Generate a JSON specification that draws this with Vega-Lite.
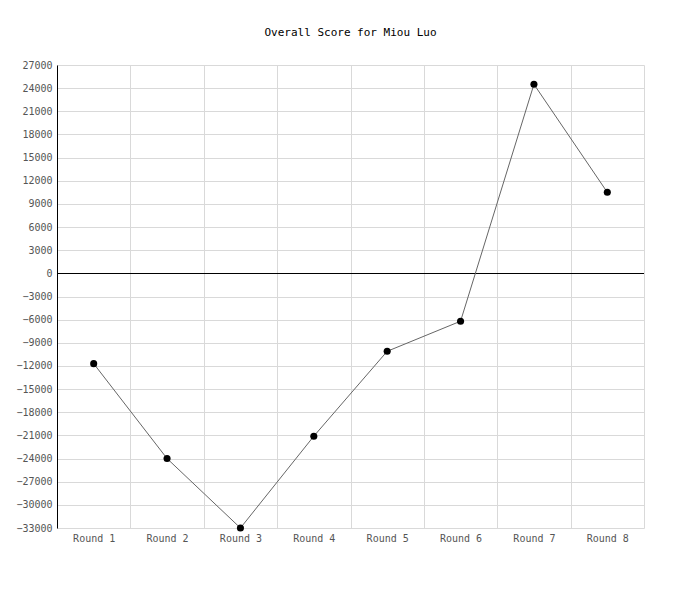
{
  "$schema": "https://vega.github.io/schema/vega-lite/v6.json",
  "width": 587,
  "height": 463,
  "autosize": {"type": "none"},
  "padding": {"left": 57, "top": 65, "right": 56, "bottom": 72},
  "background": "white",
  "title": {"text": "Overall Score for Miou Luo", "font": "DejaVu Sans Mono", "fontSize": 11, "fontWeight": "normal", "color": "#000", "offset": 22},
  "config": {"view": {"stroke": null}},
  "data": {"values": [
    {"round": "Round 1", "score": -11700},
    {"round": "Round 2", "score": -24000},
    {"round": "Round 3", "score": -33000},
    {"round": "Round 4", "score": -21100},
    {"round": "Round 5", "score": -10100},
    {"round": "Round 6", "score": -6200},
    {"round": "Round 7", "score": 24500},
    {"round": "Round 8", "score": 10500}
  ]},
  "encoding": {
    "x": {"field": "round", "type": "nominal", "sort": null,
      "scale": {"type": "band", "paddingInner": 0, "paddingOuter": 0},
      "axis": {"title": null, "labelAngle": 0, "tickBand": "extent", "ticks": false, "domain": false, "grid": true, "gridColor": "#d9d9d9", "labelFont": "DejaVu Sans Mono", "labelFontSize": 10, "labelColor": "#555", "labelPadding": 5}},
    "y": {"field": "score", "type": "quantitative",
      "scale": {"domain": [-33000, 27000], "nice": false, "zero": false},
      "axis": {"title": null, "values": [-33000,-30000,-27000,-24000,-21000,-18000,-15000,-12000,-9000,-6000,-3000,0,3000,6000,9000,12000,15000,18000,21000,24000,27000], "format": "d", "ticks": false, "domain": true, "domainColor": "#000", "gridColor": "#d9d9d9", "labelFont": "DejaVu Sans Mono", "labelFontSize": 10, "labelColor": "#555", "labelPadding": 5}}
  },
  "layer": [
    {"mark": {"type": "rule", "color": "#000", "strokeWidth": 1, "yOffset": 0.15}, "encoding": {"y": {"datum": 0}, "x": null}},
    {"mark": {"type": "line", "color": "#666", "strokeWidth": 1}},
    {"mark": {"type": "point", "filled": true, "color": "#000", "opacity": 1, "size": 50}}
  ]
}
